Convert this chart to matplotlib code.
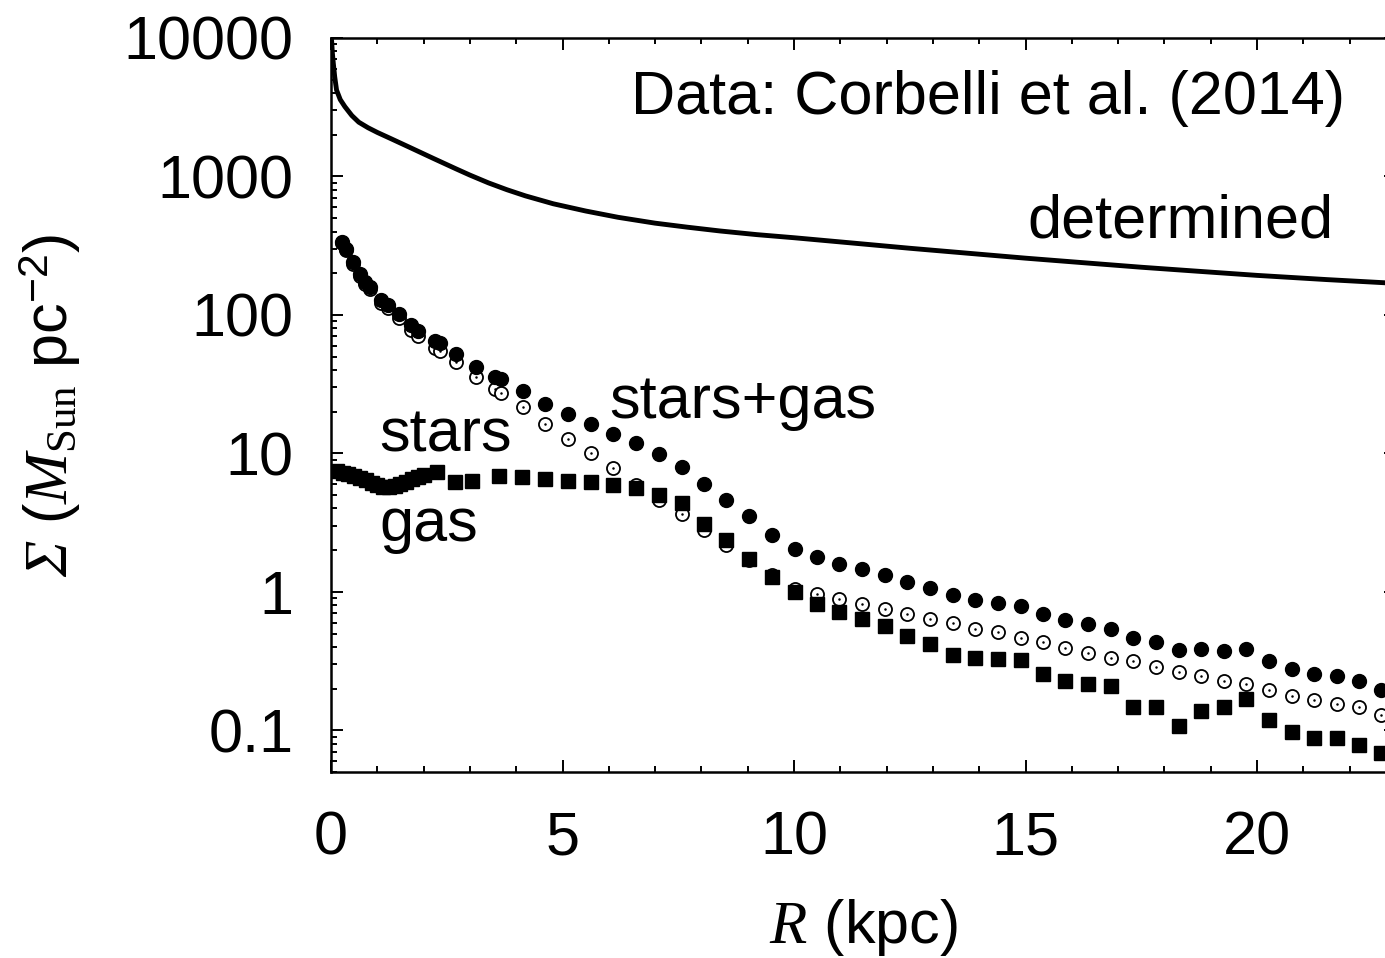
import matplotlib
matplotlib.use("Agg")
import matplotlib.pyplot as plt
from matplotlib.ticker import FixedLocator, MultipleLocator, LogLocator, FuncFormatter, NullFormatter

# ---- surface density profiles (M_Sun pc^-2) versus radius R (kpc) ----
r_disk = [0.24, 0.32, 0.48, 0.63, 0.73, 0.84, 1.09, 1.24, 1.47, 1.73, 1.88, 2.24, 2.35,
          2.71, 3.14, 3.54, 3.67, 4.15, 4.63, 5.12, 5.61, 6.10, 6.59, 7.08, 7.57, 8.05,
          8.54, 9.03, 9.52, 10.01, 10.50, 10.98, 11.47, 11.96, 12.45, 12.94, 13.43, 13.91,
          14.40, 14.90, 15.37, 15.86, 16.35, 16.84, 17.33, 17.82, 18.31, 18.79, 19.28,
          19.77, 20.26, 20.75, 21.23, 21.72, 22.20, 22.67]

sigma_total = [336, 299, 242, 196, 173, 160, 128, 118, 101, 84.3, 76.4, 64.7, 62.3,
               51.9, 42.2, 35.7, 34.3, 28.3, 22.9, 19.3, 16.3, 13.8, 11.8, 9.87, 7.99, 6.06,
               4.59, 3.52, 2.59, 2.03, 1.79, 1.58, 1.46, 1.32, 1.17, 1.06, 0.95, 0.88,
               0.837, 0.788, 0.697, 0.623, 0.583, 0.543, 0.464, 0.434, 0.379, 0.387, 0.377,
               0.387, 0.317, 0.276, 0.254, 0.246, 0.227, 0.197]

sigma_stars = [329, 292, 235, 190, 167, 154, 122, 112, 95, 78, 70, 57.5, 55,
               45.5, 35.5, 29.3, 27.3, 21.5, 16.4, 12.8, 10.1, 7.78, 5.89, 4.59, 3.68, 2.79,
               2.17, 1.71, 1.32, 1.04, 0.972, 0.895, 0.822, 0.757, 0.697, 0.641, 0.596, 0.543,
               0.513, 0.465, 0.434, 0.394, 0.364, 0.335, 0.315, 0.287, 0.264, 0.246, 0.226,
               0.217, 0.197, 0.176, 0.165, 0.156, 0.147, 0.128]

r_gas = [0.12, 0.25, 0.37, 0.50, 0.62, 0.75, 0.88, 1.00, 1.13, 1.25, 1.38, 1.50, 1.63,
         1.75, 1.88, 2.00, 2.28, 2.68, 3.04, 3.63, 4.12, 4.63, 5.12, 5.61, 6.10, 6.59,
         7.08, 7.57, 8.05, 8.54, 9.03, 9.52, 10.01, 10.50, 10.98, 11.47, 11.96, 12.45,
         12.94, 13.43, 13.91, 14.40, 14.90, 15.37, 15.86, 16.35, 16.84, 17.33, 17.82,
         18.31, 18.79, 19.28, 19.77, 20.26, 20.75, 21.23, 21.72, 22.20, 22.67]

sigma_gas = [7.40, 7.20, 7.04, 6.85, 6.65, 6.40, 6.12, 5.90, 5.73, 5.70, 5.80, 6.00, 6.25,
             6.48, 6.75, 7.00, 7.28, 6.22, 6.33, 6.84, 6.70, 6.48, 6.28, 6.22, 5.89, 5.67,
             4.99, 4.35, 3.08, 2.36, 1.74, 1.28, 1.00, 0.822, 0.716, 0.641, 0.564, 0.478,
             0.418, 0.352, 0.335, 0.326, 0.324, 0.257, 0.226, 0.217, 0.208, 0.147, 0.147,
             0.107, 0.137, 0.147, 0.167, 0.118, 0.098, 0.0886, 0.0886, 0.0789, 0.069]

r_dyn = [0.005, 0.015, 0.03, 0.05, 0.08, 0.12, 0.2, 0.3, 0.45, 0.6, 0.8, 1.0, 1.3, 1.7,
         2.2, 2.7, 3.0, 3.4, 3.8, 4.2, 4.8, 5.5, 6.2, 7.0, 7.7, 8.4, 9.2, 10.0, 11.2, 12.5,
         13.7, 15.0, 16.2, 17.5, 18.7, 20.0, 21.5, 23.0]
sigma_dyn = [10000, 9400, 7760, 6560, 5250, 4207, 3589, 3192, 2754, 2466, 2249, 2080,
             1871, 1622, 1355, 1135, 1023, 899, 802, 724, 635, 563, 507, 460, 430, 404,
             380, 361, 332, 303, 280, 257, 239, 221, 207, 193, 180, 169]

y_ticks = [0.1, 1, 10, 100, 1000, 10000]

plt.rcParams["font.family"] = "Liberation Sans"
plt.rcParams["mathtext.fontset"] = "custom"
plt.rcParams["mathtext.it"] = "Liberation Serif:italic"
plt.rcParams["mathtext.cal"] = "Liberation Serif:italic"
plt.rcParams["mathtext.rm"] = "Liberation Serif"
plt.rcParams["mathtext.sf"] = "Liberation Sans"

FS = 44
W, H = 1385, 958
fig = plt.figure(figsize=(W / 100, H / 100), dpi=100)
ax = fig.add_axes([331 / W, 1 - 772 / H, (1396 - 331) / W, (772 - 38) / H])

ax.plot(r_dyn, sigma_dyn, "-", color="black", lw=3.5, zorder=5,
        solid_capstyle="butt", solid_joinstyle="round")
ax.plot(r_disk, sigma_stars, "o", ms=9.4, mfc="white", mec="black", mew=1.3, zorder=2)
ax.plot(r_disk, sigma_stars, ".", ms=1.6, color="black", zorder=2.1)
ax.plot(r_gas, sigma_gas, "s", ms=9.6, color="black", zorder=3)
ax.plot(r_disk, sigma_total, "o", ms=10, color="black", zorder=4)

ax.set_yscale("log")
ax.set_xlim(0, 23)
ax.set_ylim(0.05, 10000)

ax.xaxis.set_major_locator(MultipleLocator(5))
ax.xaxis.set_minor_locator(MultipleLocator(1))
ax.yaxis.set_major_locator(FixedLocator(y_ticks))
ax.yaxis.set_minor_locator(LogLocator(base=10, subs=range(2, 10), numticks=20))
ax.yaxis.set_major_formatter(FuncFormatter(lambda v, p: "%g" % v))
ax.yaxis.set_minor_formatter(NullFormatter())

ax.tick_params(which="both", direction="in", top=True, right=True, width=1.4,
               labelsize=FS, colors="black")
ax.tick_params(which="major", length=8.6)
ax.tick_params(which="minor", length=4.3)
ax.tick_params(axis="x", pad=28)
ax.tick_params(axis="y", pad=27)
for s in ax.spines.values():
    s.set_linewidth(1.8)

ax.set_xlabel(r"$R$ (kpc)", fontsize=FS)
ax.xaxis.label.set_va("center")
ax.xaxis.set_label_coords(0.5, -0.212)
ax.set_ylabel(r"$\mathcal{\Sigma}$ ($M_{\rm Sun}$ pc$^{\mathsf{-2}}$)", fontsize=FS)
ax.yaxis.label.set_va("center")
ax.yaxis.set_label_coords(-0.264, 0.5)

ax.text(21.9, 2825, "Data: Corbelli et al. (2014)", fontsize=FS, ha="right", va="baseline")
ax.text(21.64, 365, "determined", fontsize=FS, ha="right", va="baseline")
ax.text(6.0, 17.9, "stars+gas", fontsize=FS, ha="left", va="baseline")
ax.text(1.04, 10.4, "stars", fontsize=FS, ha="left", va="baseline")
ax.text(1.04, 2.32, "gas", fontsize=FS, ha="left", va="baseline")

fig.savefig("out.png", dpi=100)
